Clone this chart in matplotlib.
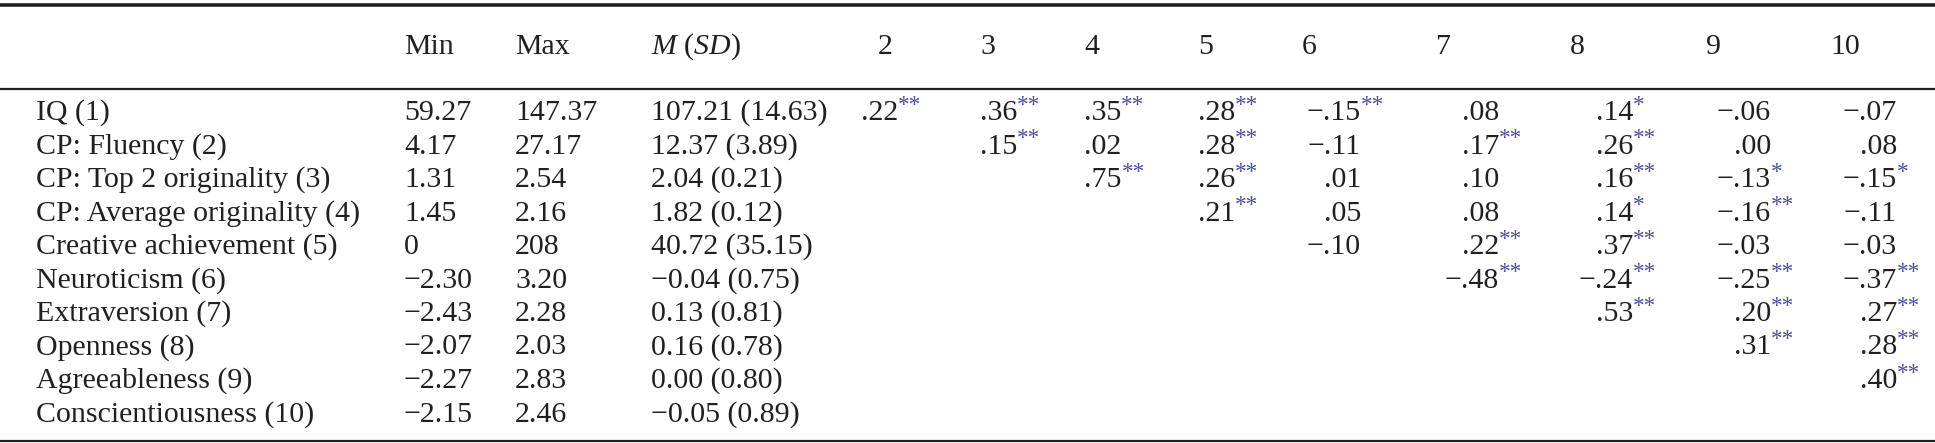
import matplotlib
matplotlib.use("Agg")
import matplotlib.pyplot as plt

plt.rcParams["font.family"] = ["Liberation Serif", "DejaVu Serif"]
plt.rcParams["mathtext.fontset"] = "custom"
plt.rcParams["mathtext.it"] = "Liberation Serif:italic"
plt.rcParams["mathtext.rm"] = "Liberation Serif"

# row labels and descriptives
labels = ["IQ (1)", "CP: Fluency (2)", "CP: Top 2 originality (3)", "CP: Average originality (4)",
          "Creative achievement (5)", "Neuroticism (6)", "Extraversion (7)", "Openness (8)",
          "Agreeableness (9)", "Conscientiousness (10)"]
mins = ["59.27", "4.17", "1.31", "1.45", "0", "−2.30", "−2.43", "−2.07", "−2.27", "−2.15"]
maxs = ["147.37", "27.17", "2.54", "2.16", "208", "3.20", "2.28", "2.03", "2.83", "2.46"]
msd = ["107.21 (14.63)", "12.37 (3.89)", "2.04 (0.21)", "1.82 (0.12)", "40.72 (35.15)",
       "−0.04 (0.75)", "0.13 (0.81)", "0.16 (0.78)", "0.00 (0.80)", "−0.05 (0.89)"]

# correlations: row -> list of (value, stars) for columns row+2 .. 10
corr = {
    1: [(".22", "**"), (".36", "**"), (".35", "**"), (".28", "**"), ("−.15", "**"),
        (".08", ""), (".14", "*"), ("−.06", ""), ("−.07", "")],
    2: [(".15", "**"), (".02", ""), (".28", "**"), ("−.11", ""), (".17", "**"),
        (".26", "**"), (".00", ""), (".08", "")],
    3: [(".75", "**"), (".26", "**"), (".01", ""), (".10", ""), (".16", "**"),
        ("−.13", "*"), ("−.15", "*")],
    4: [(".21", "**"), (".05", ""), (".08", ""), (".14", "*"), ("−.16", "**"), ("−.11", "")],
    5: [("−.10", ""), (".22", "**"), (".37", "**"), ("−.03", ""), ("−.03", "")],
    6: [("−.48", "**"), ("−.24", "**"), ("−.25", "**"), ("−.37", "**")],
    7: [(".53", "**"), (".20", "**"), (".27", "**")],
    8: [(".31", "**"), (".28", "**")],
    9: [(".40", "**")],
}
col_heads = ["2", "3", "4", "5", "6", "7", "8", "9", "10"]

INK = "#231f20"
STAR = "#4b4fa3"
FS = 21.5

fig = plt.figure(figsize=(19.35, 4.43), dpi=100)
ax = fig.add_axes([0, 0, 1, 1])
ax.set_xlim(0, 1935)
ax.set_ylim(443, 0)
ax.axis("off")

# rules
ax.plot([0, 1935], [5, 5], color=INK, lw=2.6)
ax.plot([0, 1935], [89, 89], color=INK, lw=1.6)
ax.plot([0, 1935], [441, 441], color=INK, lw=1.6)

# column x anchors
x_lab, x_min, x_max, x_msd = 36, 404, 515, 651
left_cols = [861, 980, 1084, 1198]          # cols 2-5 left aligned
right_cols = [1361, 1499, 1633, 1771, 1897]  # cols 6-10 right aligned (digit end)
head_x = [878, 980, 1084, 1198, 1302, 1436, 1570, 1706, 1830]

y_head = 47
ax.text(x_min, y_head, "Min", fontsize=FS, color=INK, va="center")
ax.text(x_max, y_head, "Max", fontsize=FS, color=INK, va="center")
ax.text(x_msd, y_head, r"$M$ ($SD$)", fontsize=FS, color=INK, va="center")
for hx, h in zip(head_x, col_heads):
    ax.text(hx, y_head, h, fontsize=FS, color=INK, va="center")

y0, dy = 113, 33.5
for i, lab in enumerate(labels):
    y = y0 + i * dy
    ax.text(x_lab, y, lab, fontsize=FS, color=INK, va="center")
    ax.text(x_min, y, mins[i], fontsize=FS, color=INK, va="center")
    ax.text(x_max, y, maxs[i], fontsize=FS, color=INK, va="center")
    ax.text(x_msd, y, msd[i], fontsize=FS, color=INK, va="center")
    for k, (val, st) in enumerate(corr.get(i + 1, [])):
        ci = i + k  # index into columns 2..10
        if ci < 4:
            t = ax.text(left_cols[ci], y, val, fontsize=FS, color=INK, va="center", ha="left")
        else:
            t = ax.text(right_cols[ci - 4], y, val, fontsize=FS, color=INK, va="center", ha="right")
        if st:
            ax.annotate(st, xy=(1.0, 0.8), xycoords=t, fontsize=FS * 0.78, color=STAR,
                        ha="left", va="center")

fig.savefig("out.png", dpi=100, facecolor="white")
